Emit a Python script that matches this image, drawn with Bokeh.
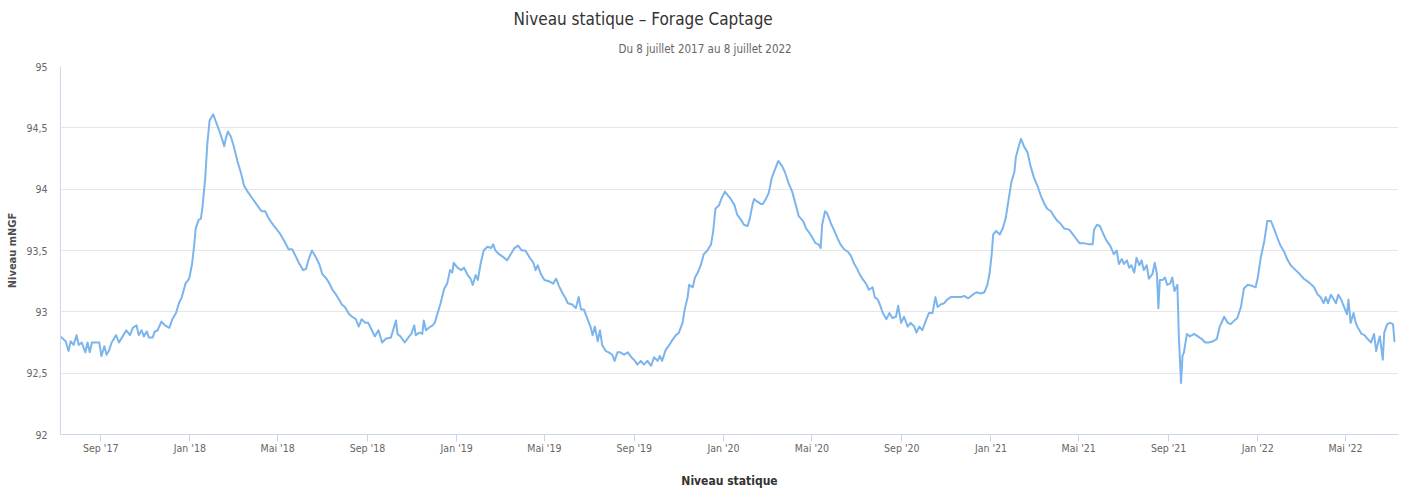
import pandas as pd
from bokeh.plotting import figure
from bokeh.models import (ColumnDataSource, Range1d, FixedTicker, CustomJSTickFormatter, Title)
from bokeh.embed import file_html
from bokeh.resources import INLINE

# ---------------- data ----------------
titre = "Niveau statique – Forage Captage"
sous_titre = "Du 8 juillet 2017 au 8 juillet 2022"
serie_nom = "Niveau statique"
axe_titre = "Niveau"
axe_unite = "mNGF"

date_debut = "2017-07-08"
date_fin_axe = "2022-07-12 12:00"

# days since 8 July 2017
jours = [
    0, 7, 11, 14, 18, 22, 25, 29, 34, 37, 40, 43, 53, 56, 60, 63, 66, 70, 76, 80,
    85, 90, 95, 99, 104, 107, 111, 114, 118, 121, 126, 129, 133, 138, 143, 149, 153, 158, 162, 166,
    171, 176, 180, 183, 185, 189, 192, 194, 198, 201, 204, 209, 212, 217, 221, 224, 226, 229, 233, 237,
    242, 247, 251, 256, 263, 269, 275, 280, 285, 292, 300, 306, 312, 317, 322, 326, 332, 336, 339, 344,
    348, 354, 358, 364, 368, 372, 377, 381, 385, 389, 395, 399, 404, 408, 412, 417, 421, 426, 430, 435,
    440, 445, 452, 459, 461, 465, 471, 477, 480, 484, 486, 491, 495, 497, 500, 504, 509, 512, 516, 520,
    525, 529, 533, 536, 538, 543, 548, 552, 557, 561, 564, 568, 571, 575, 579, 584, 589, 592, 595, 600,
    605, 611, 616, 621, 626, 631, 636, 642, 647, 650, 653, 657, 662, 668, 674, 678, 682, 687, 691, 694,
    700, 705, 709, 712, 716, 721, 725, 728, 731, 735, 738, 741, 746, 750, 755, 758, 762, 766, 771, 776,
    781, 786, 789, 794, 798, 803, 808, 812, 817, 820, 823, 828, 833, 837, 842, 846, 851, 854, 858, 860,
    865, 868, 871, 876, 880, 885, 890, 893, 896, 901, 904, 909, 913, 917, 922, 926, 931, 935, 940, 943,
    947, 949, 953, 958, 961, 965, 969, 973, 978, 982, 987, 991, 996, 1001, 1006, 1010, 1016, 1020, 1025, 1030,
    1033, 1037, 1040, 1042, 1046, 1049, 1054, 1058, 1063, 1067, 1072, 1077, 1081, 1086, 1089, 1093, 1097, 1102, 1106, 1111,
    1114, 1118, 1121, 1125, 1130, 1134, 1138, 1143, 1146, 1150, 1154, 1159, 1163, 1168, 1171, 1175, 1179, 1184, 1188, 1193,
    1197, 1200, 1204, 1209, 1213, 1218, 1225, 1232, 1236, 1242, 1248, 1253, 1259, 1264, 1268, 1271, 1274, 1276, 1280, 1285,
    1289, 1293, 1298, 1301, 1305, 1307, 1311, 1314, 1318, 1323, 1327, 1332, 1337, 1341, 1346, 1350, 1355, 1359, 1364, 1368,
    1373, 1380, 1384, 1389, 1394, 1400, 1407, 1412, 1414, 1418, 1422, 1427, 1431, 1436, 1441, 1445, 1448, 1452, 1455, 1459,
    1462, 1465, 1469, 1472, 1476, 1479, 1482, 1486, 1489, 1494, 1497, 1500, 1502, 1504, 1508, 1511, 1514, 1518, 1521, 1524,
    1528, 1530, 1533, 1535, 1537, 1541, 1545, 1551, 1556, 1561, 1566, 1571, 1577, 1582, 1586, 1592, 1597, 1601, 1606, 1610,
    1615, 1619, 1624, 1631, 1635, 1638, 1642, 1647, 1651, 1656, 1660, 1665, 1669, 1674, 1679, 1683, 1688, 1695, 1701, 1708,
    1715, 1720, 1724, 1728, 1731, 1734, 1738, 1742, 1745, 1748, 1752, 1756, 1760, 1762, 1765, 1769, 1772, 1775, 1780, 1784,
    1788, 1793, 1797, 1800, 1803, 1805, 1809, 1811, 1815, 1819, 1823, 1825, 1826,
]

niveau = [
    92.80, 92.76, 92.68, 92.76, 92.73, 92.81, 92.73, 92.75, 92.67, 92.75, 92.67, 92.75, 92.75, 92.64, 92.72, 92.65, 92.68, 92.75, 92.81, 92.75,
    92.80, 92.85, 92.81, 92.87, 92.89, 92.81, 92.85, 92.80, 92.84, 92.79, 92.79, 92.84, 92.85, 92.92, 92.89, 92.87, 92.94, 92.99, 93.07, 93.12,
    93.23, 93.27, 93.39, 93.55, 93.68, 93.75, 93.76, 93.84, 94.09, 94.38, 94.56, 94.61, 94.56, 94.48, 94.41, 94.35, 94.41, 94.47, 94.43, 94.35,
    94.23, 94.13, 94.03, 93.98, 93.92, 93.87, 93.82, 93.82, 93.76, 93.70, 93.64, 93.58, 93.51, 93.51, 93.45, 93.40, 93.34, 93.35, 93.42, 93.50,
    93.46, 93.39, 93.31, 93.27, 93.23, 93.18, 93.14, 93.10, 93.06, 93.04, 92.98, 92.96, 92.94, 92.88, 92.94, 92.91, 92.91, 92.85, 92.80, 92.85,
    92.75, 92.78, 92.79, 92.93, 92.82, 92.80, 92.75, 92.80, 92.82, 92.89, 92.81, 92.83, 92.82, 92.93, 92.85, 92.87, 92.89, 92.91, 92.99, 93.07,
    93.19, 93.23, 93.34, 93.32, 93.40, 93.36, 93.34, 93.36, 93.30, 93.27, 93.22, 93.30, 93.26, 93.40, 93.50, 93.53, 93.52, 93.55, 93.50, 93.47,
    93.45, 93.42, 93.47, 93.52, 93.54, 93.50, 93.50, 93.44, 93.40, 93.34, 93.38, 93.31, 93.26, 93.25, 93.23, 93.27, 93.21, 93.15, 93.11, 93.07,
    93.06, 93.03, 93.12, 93.02, 93.02, 92.94, 92.88, 92.81, 92.88, 92.76, 92.85, 92.73, 92.68, 92.67, 92.65, 92.60, 92.67, 92.67, 92.65, 92.67,
    92.63, 92.60, 92.57, 92.60, 92.57, 92.60, 92.56, 92.63, 92.60, 92.64, 92.60, 92.69, 92.73, 92.77, 92.81, 92.83, 92.91, 93.02, 93.12, 93.22,
    93.20, 93.28, 93.31, 93.38, 93.47, 93.50, 93.55, 93.66, 93.84, 93.87, 93.92, 93.98, 93.95, 93.92, 93.87, 93.79, 93.75, 93.71, 93.70, 93.76,
    93.88, 93.92, 93.90, 93.88, 93.88, 93.92, 93.97, 94.09, 94.17, 94.23, 94.19, 94.14, 94.05, 93.98, 93.87, 93.78, 93.74, 93.68, 93.64, 93.59,
    93.56, 93.55, 93.52, 93.71, 93.82, 93.80, 93.72, 93.67, 93.60, 93.55, 93.51, 93.49, 93.46, 93.39, 93.36, 93.31, 93.27, 93.23, 93.18, 93.20,
    93.12, 93.10, 93.06, 92.99, 92.94, 92.99, 92.95, 92.96, 93.05, 92.91, 92.96, 92.88, 92.91, 92.88, 92.83, 92.88, 92.85, 92.93, 92.99, 92.99,
    93.12, 93.04, 93.06, 93.07, 93.10, 93.12, 93.12, 93.12, 93.13, 93.11, 93.14, 93.16, 93.15, 93.16, 93.22, 93.31, 93.47, 93.63, 93.66, 93.63,
    93.68, 93.76, 93.95, 94.06, 94.14, 94.26, 94.35, 94.41, 94.35, 94.30, 94.19, 94.09, 94.02, 93.95, 93.88, 93.84, 93.82, 93.78, 93.74, 93.72,
    93.68, 93.67, 93.64, 93.60, 93.56, 93.56, 93.55, 93.55, 93.67, 93.71, 93.70, 93.63, 93.58, 93.54, 93.47, 93.50, 93.39, 93.43, 93.39, 93.42,
    93.36, 93.38, 93.32, 93.44, 93.38, 93.42, 93.34, 93.38, 93.27, 93.31, 93.40, 93.31, 93.03, 93.26, 93.26, 93.28, 93.22, 93.23, 93.28, 93.17,
    93.22, 92.80, 92.42, 92.64, 92.67, 92.82, 92.80, 92.82, 92.80, 92.78, 92.75, 92.75, 92.76, 92.78, 92.88, 92.96, 92.91, 92.90, 92.93, 92.95,
    93.04, 93.19, 93.22, 93.21, 93.20, 93.28, 93.44, 93.58, 93.74, 93.74, 93.68, 93.60, 93.54, 93.49, 93.42, 93.38, 93.35, 93.31, 93.27, 93.24,
    93.20, 93.14, 93.12, 93.07, 93.12, 93.07, 93.14, 93.10, 93.07, 93.14, 93.10, 93.04, 92.98, 93.10, 92.91, 92.99, 92.91, 92.87, 92.82, 92.81,
    92.78, 92.75, 92.82, 92.68, 92.76, 92.80, 92.61, 92.83, 92.90, 92.91, 92.90, 92.76, 92.76,
]

tick_dates = ["2017-09-01", "2018-01-01", "2018-05-01", "2018-09-01", "2019-01-01",
              "2019-05-01", "2019-09-01", "2020-01-01", "2020-05-01", "2020-09-01",
              "2021-01-01", "2021-05-01", "2021-09-01", "2022-01-01", "2022-05-01"]
tick_labels = ["Sep '17", "Jan '18", "Mai '18", "Sep '18", "Jan '19",
               "Mai '19", "Sep '19", "Jan '20", "Mai '20", "Sep '20",
               "Jan '21", "Mai '21", "Sep '21", "Jan '22", "Mai '22"]
y_ticks = [92, 92.5, 93, 93.5, 94, 94.5, 95]
y_min, y_max = 92, 95

# ---------------- styles ----------------
FONT = "DejaVu Sans Condensed"
LINE_COLOR = "#7cb5ec"
AXIS_COLOR = "#ccd6eb"
GRID_COLOR = "#e6e6e6"

start = pd.Timestamp(date_debut)
dates = start + pd.to_timedelta(jours, unit="D")
src = ColumnDataSource(dict(date=dates, niveau=niveau))

p = figure(width=1409, height=490, x_axis_type="datetime",
           output_backend="svg", toolbar_location=None,
           x_range=Range1d(start, pd.Timestamp(date_fin_axe)),
           y_range=Range1d(y_min, y_max),
           min_border_left=60, min_border_right=11,
           min_border_top=66, min_border_bottom=51)
p.outline_line_color = None
p.background_fill_color = "white"
p.border_fill_color = "white"

p.line("date", "niveau", source=src, line_color=LINE_COLOR,
       line_width=2, line_join="round")

# x axis (its label carries the series name, where the legend sits in the original)
tick_ms = [float(t.value // 10**6) for t in pd.to_datetime(tick_dates)]
p.xaxis.ticker = FixedTicker(ticks=tick_ms)
p.xaxis.formatter = CustomJSTickFormatter(
    args=dict(tk_ms=tick_ms, tk_labels=tick_labels),
    code="const i = tk_ms.indexOf(tick); return i >= 0 ? tk_labels[i] : '';")
p.xaxis.axis_line_color = AXIS_COLOR
p.xaxis.major_tick_line_color = AXIS_COLOR
p.xaxis.major_tick_out = 7
p.xaxis.major_tick_in = 0
p.xaxis.minor_tick_line_color = None
p.xaxis.minor_tick_out = 0
p.xaxis.major_label_standoff = 0
p.xaxis.major_label_text_font = FONT
p.xaxis.major_label_text_font_size = "10.5px"
p.xaxis.major_label_text_color = "#666666"
p.xaxis.axis_label = serie_nom
p.xaxis.axis_label_standoff = 17
p.xaxis.axis_label_text_font = FONT
p.xaxis.axis_label_text_font_size = "12px"
p.xaxis.axis_label_text_font_style = "bold"
p.xaxis.axis_label_text_color = "#333333"
p.xgrid.visible = False

# y axis
p.yaxis.ticker = FixedTicker(ticks=y_ticks)
p.yaxis.formatter = CustomJSTickFormatter(code="return String(tick).replace('.', ',');")
p.yaxis.axis_line_color = AXIS_COLOR
p.yaxis.major_tick_line_color = None
p.yaxis.major_tick_out = 0
p.yaxis.major_tick_in = 0
p.yaxis.minor_tick_out = 0
p.yaxis.minor_tick_line_color = None
p.yaxis.major_label_standoff = 13
p.yaxis.major_label_text_font = FONT
p.yaxis.major_label_text_font_size = "10.5px"
p.yaxis.major_label_text_color = "#666666"
p.yaxis.axis_label = f"{axe_titre} {axe_unite}"
p.yaxis.axis_label_standoff = 4
p.yaxis.axis_label_text_font = FONT
p.yaxis.axis_label_text_font_size = "11px"
p.yaxis.axis_label_text_font_style = "bold"
p.yaxis.axis_label_text_color = "#4d4d4d"
p.ygrid.grid_line_color = GRID_COLOR
p.ygrid.ticker = FixedTicker(ticks=y_ticks)

# titles: subtitle first (closest to the frame), then main title
p.add_layout(Title(text=sous_titre, align="left", offset=558, standoff=22,
                   text_font=FONT, text_font_size="11.5px", text_font_style="normal",
                   text_color="#666666"), "above")
p.add_layout(Title(text=titre, align="left", offset=453, standoff=0,
                   text_font=FONT, text_font_size="17px", text_font_style="normal",
                   text_color="#333333"), "above")

open("out.html", "w").write(file_html(p, INLINE))
